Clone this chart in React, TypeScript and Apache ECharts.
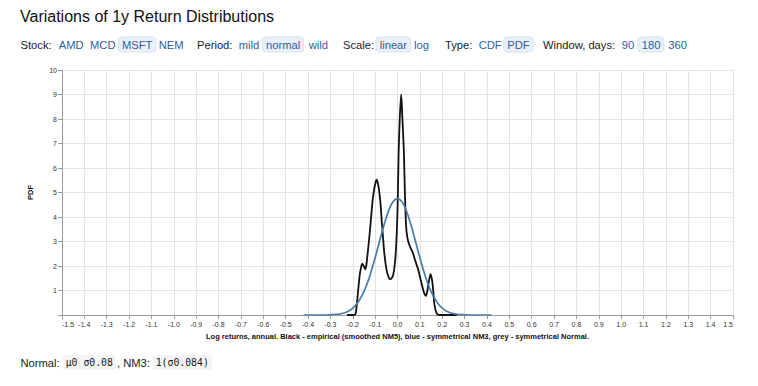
import React, { useEffect, useRef } from "react";
import * as echarts from "echarts";

// ---- data ----
const xTickMin = -1.5;
const xTickMax = 1.5;
const yTickMax = 10;

// empirical (smoothed NM5) PDF, black
const empiricalX = [-0.226, -0.2, -0.19, -0.186, -0.18, -0.176, -0.17, -0.165, -0.158, -0.151, -0.144, -0.139, -0.135, -0.129, -0.123, -0.117, -0.111, -0.104, -0.097, -0.093, -0.089, -0.084, -0.076, -0.071, -0.065, -0.059, -0.049, -0.041, -0.034, -0.026, -0.019, -0.013, -0.008, -0.003, 0.001, 0.005, 0.01, 0.0165, 0.022, 0.028, 0.033, 0.037, 0.041, 0.048, 0.058, 0.07, 0.08, 0.093, 0.104, 0.115, 0.121, 0.127, 0.132, 0.137, 0.143, 0.148, 0.153, 0.157, 0.161, 0.164, 0.17, 0.175, 0.18, 0.19, 0.266];
const empiricalPdf = [0, 0, 0.02, 0.1, 0.6, 1.0, 1.55, 1.85, 2.1, 2.0, 1.86, 2.05, 2.38, 2.9, 3.47, 4.1, 4.69, 5.15, 5.45, 5.52, 5.42, 5.2, 4.56, 3.9, 3.2, 2.52, 1.84, 1.58, 1.46, 1.5, 1.65, 2.0, 2.5, 3.4, 4.6, 6.6, 8.0, 9.0, 8.0, 6.8, 5.0, 3.9, 3.35, 3.0, 2.75, 2.5, 2.2, 1.84, 1.42, 1.02, 0.85, 0.78, 0.92, 1.2, 1.5, 1.67, 1.5, 1.25, 0.85, 0.5, 0.2, 0.07, 0.02, 0, 0];

// symmetrical NM3 PDF, blue
const nm3X = [-0.42, -0.4, -0.38, -0.36, -0.34, -0.32, -0.3, -0.28, -0.26, -0.24, -0.22, -0.2, -0.18, -0.16, -0.14, -0.12, -0.1, -0.08, -0.06, -0.04, -0.02, 0, 0.02, 0.04, 0.06, 0.08, 0.1, 0.12, 0.14, 0.16, 0.18, 0.2, 0.22, 0.24, 0.26, 0.28, 0.3, 0.32, 0.34, 0.36, 0.38, 0.4, 0.42];
const nm3Pdf = [0, 0, 0, 0, 0, 0, 0.01, 0.02, 0.04, 0.08, 0.15, 0.28, 0.48, 0.77, 1.18, 1.71, 2.34, 3.02, 3.68, 4.24, 4.62, 4.75, 4.62, 4.24, 3.68, 3.02, 2.34, 1.71, 1.18, 0.77, 0.48, 0.28, 0.15, 0.08, 0.04, 0.02, 0.01, 0, 0, 0, 0, 0, 0];

// controls row
const controlLabels = ["Stock:", "AMD", "MCD", "MSFT", "NEM", "Period:", "mild", "normal", "wild", "Scale:", "linear", "log", "Type:", "CDF", "PDF", "Window, days:", "90", "180", "360"];
const controlKinds = ["h", "o", "o", "s", "o", "h", "o", "s", "o", "h", "s", "o", "h", "o", "s", "h", "o", "s", "o"];
const controlX = [20.5, 58.7, 90, 119, 158.7, 197, 238.7, 263, 308.7, 343, 376.7, 414, 445, 478.7, 504.3, 543, 621.7, 638.7, 668.3];

const titleText = "Variations of 1y Return Distributions";
const xAxisName = "Log returns, annual. Black - empirical (smoothed NM5), blue - symmetrical NM3, grey - symmetrical Normal.";
const yAxisName = "PDF";
const footerParts = ["Normal:", "μ0 σ0.08", ", NM3:", "1(σ0.084)"];
const footerKinds = ["t", "c", "t", "c"];
const footerX = [20.5, 62.7, 117, 152.7];

const SANS = "'Liberation Sans', Arial, Helvetica, sans-serif";
const MONO = "'DejaVu Sans Mono', 'Liberation Mono', monospace";
const LINK = "#2f5f9f";

export default function App() {
  const ref = useRef<HTMLDivElement>(null);
  useEffect(() => {
    if (!ref.current) return;
    const chart = echarts.init(ref.current, undefined, { renderer: "svg" });

    const graphics: any[] = [];
    graphics.push({
      type: "text",
      x: 20,
      y: 16,
      style: { text: titleText, font: `16px ${SANS}`, fill: "#111", verticalAlign: "middle" },
    });
    controlLabels.forEach((t, i) => {
      const k = controlKinds[i];
      const st: any = {
        text: t,
        font: `11.2px ${SANS}`,
        fill: k === "h" ? "#1a1a1a" : LINK,
        verticalAlign: "middle",
      };
      if (k === "s") {
        st.backgroundColor = "#e9f0fa";
        st.borderColor = "#d8e3f2";
        st.borderWidth = 1;
        st.borderRadius = 3;
        st.padding = [2, 3, 1, 3];
      }
      graphics.push({ type: "text", x: controlX[i], y: 44.5, style: st });
    });
    footerParts.forEach((t, i) => {
      const k = footerKinds[i];
      const st: any = {
        text: t,
        font: k === "c" ? `9.8px ${MONO}` : `11.2px ${SANS}`,
        fill: "#1a1a1a",
        verticalAlign: "middle",
      };
      if (k === "c") {
        st.backgroundColor = "#f3f4f6";
        st.borderRadius = 3;
        st.padding = [3, 3, 2, 3];
      }
      graphics.push({ type: "text", x: footerX[i], y: 362.5, style: st });
    });

    const fmtX = (v: number) => (Math.abs(v) < 1e-9 ? "0.0" : v.toFixed(1));

    chart.setOption({
      animation: false,
      backgroundColor: "#ffffff",
      graphic: graphics,
      grid: { left: 62, right: 25, top: 70, bottom: 71, containLabel: false },
      xAxis: {
        type: "value",
        min: xTickMin,
        max: xTickMax,
        interval: 0.1,
        name: xAxisName,
        nameLocation: "middle",
        nameGap: 16,
        nameTextStyle: { fontFamily: SANS, fontSize: 7.5, fontWeight: "bold", color: "#111" },
        axisLine: { show: true, onZero: false, lineStyle: { color: "#999", width: 1 } },
        axisTick: { show: true, length: 4, lineStyle: { color: "#999" } },
        axisLabel: {
          fontFamily: SANS,
          fontSize: 7,
          color: "#333",
          margin: 6,
          formatter: fmtX,
          alignMinLabel: "left",
          alignMaxLabel: "right",
          hideOverlap: false,
        },
        splitLine: { show: true, lineStyle: { color: "#e4e4e4", width: 1 } },
      },
      yAxis: {
        type: "value",
        min: 0,
        max: yTickMax,
        interval: 1,
        name: yAxisName,
        nameLocation: "middle",
        nameGap: 28,
        nameTextStyle: { fontFamily: SANS, fontSize: 7.5, fontWeight: "bold", color: "#111" },
        axisLine: { show: true, onZero: false, lineStyle: { color: "#999", width: 1 } },
        axisTick: { show: true, length: 4, lineStyle: { color: "#999" } },
        axisLabel: {
          fontFamily: SANS,
          fontSize: 7,
          color: "#333",
          margin: 5,
          formatter: (v: number) => (v === 0 ? "" : String(v)),
        },
        splitLine: { show: true, lineStyle: { color: "#e4e4e4", width: 1 } },
      },
      series: [
        {
          type: "line",
          name: "empirical",
          data: empiricalX.map((x, i) => [x, empiricalPdf[i]]),
          showSymbol: false,
          symbol: "none",
          smooth: 0.25,
          lineStyle: { color: "#111111", width: 1.8 },
          z: 3,
        },
        {
          type: "line",
          name: "NM3",
          data: nm3X.map((x, i) => [x, nm3Pdf[i]]),
          showSymbol: false,
          symbol: "none",
          smooth: true,
          lineStyle: { color: "#4a7ca8", width: 1.7 },
          z: 4,
        },
      ],
    });
    return () => chart.dispose();
  }, []);

  return (
    <div
      ref={ref}
      style={{ position: "fixed", left: 0, top: 0, width: 758, height: 386, background: "#fff" }}
    />
  );
}
